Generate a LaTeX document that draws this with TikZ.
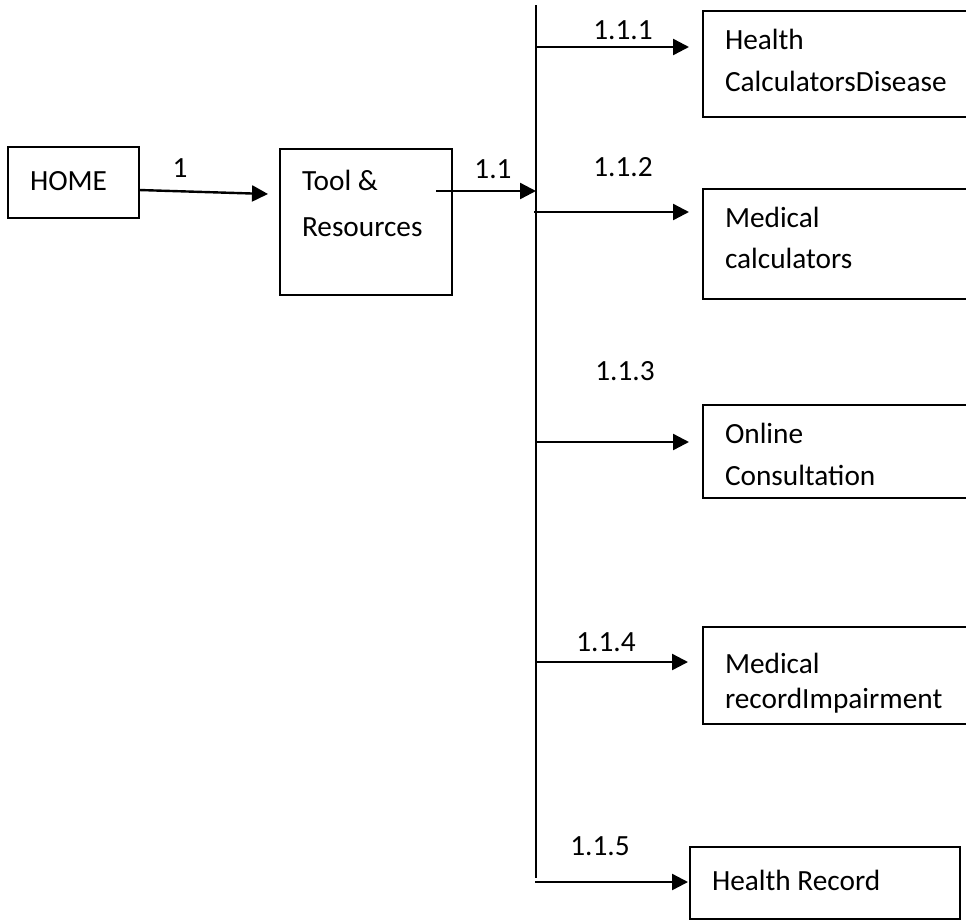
\documentclass[tikz,border=0pt]{standalone}
\usepackage{fontspec}
\setmainfont{Carlito}
\usetikzlibrary{arrows.meta}
\begin{document}
\begin{tikzpicture}[x=1pt,y=-1pt,
  every node/.style={inner sep=0pt,outer sep=0pt},
  boxn/.style={draw,line width=2.2pt,rectangle,anchor=north west},
  txt/.style={anchor=base west,font=\fontsize{29.3}{35}\selectfont},
  num/.style={anchor=base,font=\fontsize{29.3}{35}\selectfont},
  conn/.style={line width=2.4pt},
  arr/.style={line width=2.4pt,-{Triangle[length=16pt,width=16pt]}}]
\useasboundingbox (0,0) rectangle (966,921);
\clip (0,0) rectangle (966,921);
% boxes
\node[boxn,minimum width=131pt,minimum height=71pt] (home) at (8,147) {};
\node[boxn,minimum width=172pt,minimum height=146pt] (tool) at (280,149) {};
\node[boxn,minimum width=280pt,minimum height=106pt] (b1) at (703,11) {};
\node[boxn,minimum width=280pt,minimum height=110pt] (b2) at (703,189) {};
\node[boxn,minimum width=280pt,minimum height=93pt] (b3) at (703,405) {};
\node[boxn,minimum width=280pt,minimum height=97pt] (b4) at (703,627) {};
\node[boxn,minimum width=270pt,minimum height=72pt] (b5) at (690,847) {};
% texts
\node[txt] (thome) at (30,190) {HOME};
\node[txt] (ttool1) at (302,190) {Tool \&};
\node[txt] (ttool2) at (302,236) {Resources};
\node[txt] (t1a) at (725,49) {Health};
\node[txt] (t1b) at (725,91) {CalculatorsDisease};
\node[txt] (t2a) at (725,227) {Medical};
\node[txt] (t2b) at (725,268) {calculators};
\node[txt] (t3a) at (725,443) {Online};
\node[txt] (t3b) at (725,485) {Consultation};
\node[txt] (t4a) at (725,673) {Medical};
\node[txt] (t4b) at (725,708) {recordImpairment};
\node[txt] (t5) at (712,890) {Health Record};
% labels
\node[num] (l1) at (180,177) {1};
\node[num] (l11) at (493,178) {1.1};
\node[num] (l111) at (623,39) {1.1.1};
\node[num] (l112) at (623,176) {1.1.2};
\node[num] (l113) at (625,380) {1.1.3};
\node[num] (l114) at (606,651) {1.1.4};
\node[num] (l115) at (600,855) {1.1.5};
% bus
\coordinate (bt) at (536,5);
\coordinate (bb) at (536,878);
\draw[conn] (bt) -- (bb);
\coordinate (c1) at (536,47);
\coordinate (c2) at (534,212);
\coordinate (c3) at (536,442);
\coordinate (c4) at (535,662);
\coordinate (c5) at (535,882);
% connectors
\draw[arr] (139,190) -- (268,194);
\draw[arr] (436,191) -- (bt |- 0,191);
\draw[arr] (c1) -- ([xshift=-14pt]b1.west |- c1);
\draw[arr] (c2) -- ([xshift=-14pt]b2.west |- c2);
\draw[arr] (c3) -- ([xshift=-14pt]b3.west |- c3);
\draw[arr] (c4) -- ([xshift=-15pt]b4.west |- c4);
\draw[arr] (c5) -- ([xshift=-2pt]b5.west |- c5);
\end{tikzpicture}
\end{document}
